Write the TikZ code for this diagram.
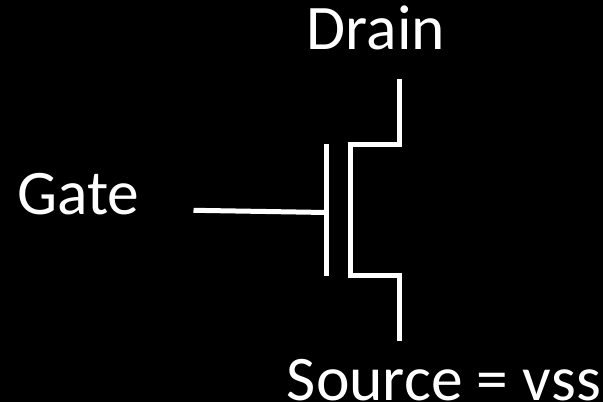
\documentclass[tikz,border=0pt]{standalone}
\usepackage{fontspec}
\setmainfont{Carlito}
\tikzset{wire/.style={draw=white,line width=5pt,line cap=butt,line join=miter},
lbl/.style={text=white,font=\fontsize{63.5}{64}\selectfont,inner sep=0pt,anchor=base}}
\begin{document}
\begin{tikzpicture}[x=1pt,y=-1pt]
\fill[black] (0,0) rectangle (603,402);
\useasboundingbox (0,0) rectangle (603,402);
\node[lbl] (drain) at (376,49) {Drain};
\node[lbl] (gate) at (78.5,214) {Gate};
\node[lbl] (source) at (444,400) {Source = vss};
\coordinate (dt) at (399.5,79);
\coordinate (dc) at (399.5,144.5);
\coordinate (ct) at (350.2,144.5);
\coordinate (cb) at (350.2,275.5);
\coordinate (sc) at (399.5,275.5);
\coordinate (sb) at (399.5,341);
\draw[wire] (dt) -- (dc) -- (ct) -- (cb) -- (sc) -- (sb);
\coordinate (pt) at (326.5,144);
\coordinate (pb) at (326.5,276);
\coordinate (pm) at (326.5,212.5);
\coordinate (gs) at (193.5,210.3);
\draw[wire] (pt) -- (pb);
\draw[wire] (gs) -- (pm);
\end{tikzpicture}
\end{document}
